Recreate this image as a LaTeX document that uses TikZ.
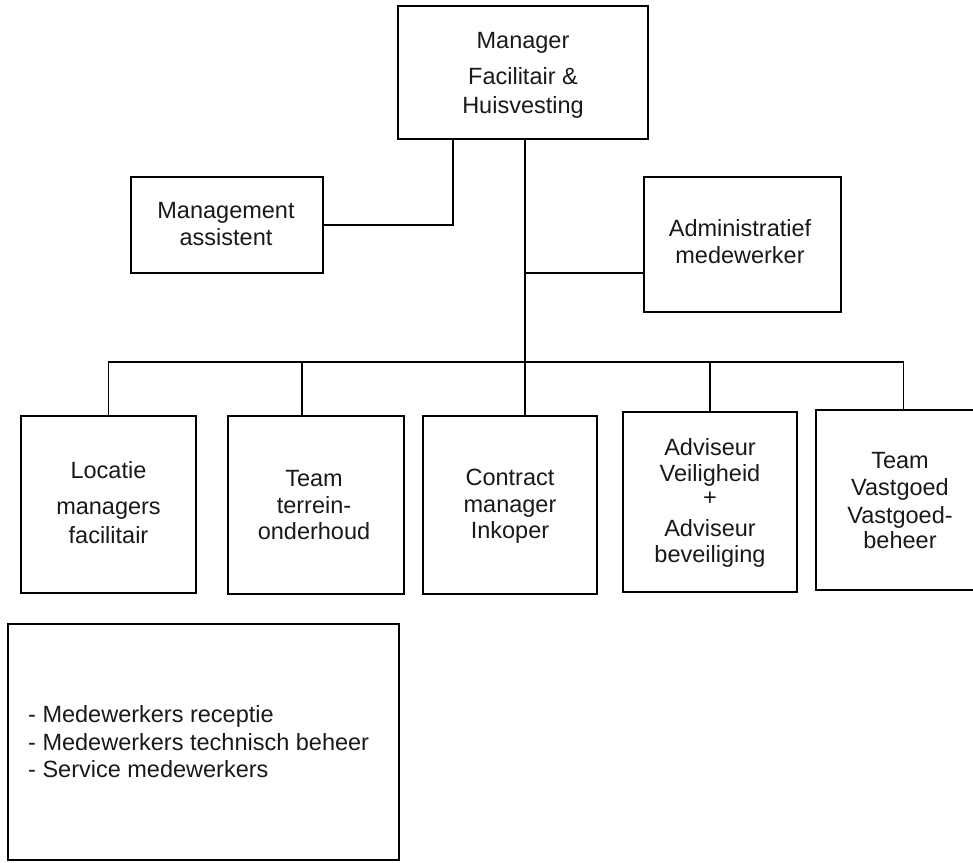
\documentclass[tikz,border=0pt]{standalone}
\usepackage{fontspec}
\setmainfont{Liberation Sans}
\begin{document}
\begin{tikzpicture}[x=1pt,y=-1pt,
  box/.style={draw=black,line width=1.6pt,rectangle,inner sep=0pt},
  txt/.style={align=center,inner sep=0pt,anchor=base,text=black!90,font=\fontsize{23.5}{27}\selectfont},
  ltxt/.style={align=left,inner sep=0pt,anchor=base west,text=black!90,font=\fontsize{23.5}{27}\selectfont},
  conn/.style={draw=black,line width=1.6pt}]
\useasboundingbox (0,0) rectangle (973,862);
% boxes
\node[box,minimum width=250pt,minimum height=133pt] (top) at (523,72.5) {};
\node[box,minimum width=192pt,minimum height=96pt] (assist) at (227,225) {};
\node[box,minimum width=197pt,minimum height=135pt] (admin) at (742.5,244.5) {};
\node[box,minimum width=175pt,minimum height=177pt] (b1) at (108.5,504.5) {};
\node[box,minimum width=176pt,minimum height=178pt] (b2) at (316,505) {};
\node[box,minimum width=174pt,minimum height=178pt] (b3) at (510,505) {};
\node[box,minimum width=174pt,minimum height=180pt] (b4) at (710,502) {};
\node[box,minimum width=175pt,minimum height=180pt] (b5) at (903.5,500) {};
\node[box,minimum width=391pt,minimum height=236pt] (list) at (203.5,742) {};
% texts (anchor base = baseline of the last line)
\node[txt] (topt) at (523,113) {Manager\\[9pt]Facilitair \&\\[2pt]Huisvesting};
\node[txt] (assistt) at (226,245) {Management\\[0pt]assistent};
\node[txt] (admint) at (740,263) {Administratief\\[0pt]medewerker};
\node[txt] (b1t) at (108.5,543) {Locatie\\[9pt]managers\\[2pt]facilitair};
\node[txt] (b2t) at (314,539) {Team\\[0pt]terrein-\\[-1pt]onderhoud};
\node[txt] (b3t) at (510,538) {Contract\\[0pt]manager\\[-1pt]Inkoper};
\node[txt] (b4t) at (710,562) {Adviseur\\[-1pt]Veiligheid\\[-3pt]+\\[4pt]Adviseur\\[-1pt]beveiliging};
\node[txt] (b5t) at (900,548) {Team\\[0pt]Vastgoed\\[1pt]Vastgoed-\\[-2pt]beheer};
\node[ltxt] (listt) at (28,777) {- Medewerkers receptie\\[1pt]- Medewerkers technisch beheer\\[0pt]- Service medewerkers};
% connectors
\coordinate (bus) at (525,362);
\draw[conn] ([xshift=-70pt]top.south) |- (assist.east);
\draw[conn] ([xshift=2pt]top.south) -- (bus);
\draw[conn] ([yshift=-28.5pt]admin.west) -- ([yshift=-28.5pt]admin.west -| bus);
\draw[conn] (b1.north) -- (b1.north |- bus) -- (b5.north |- bus) -- (b5.north);
\draw[conn] ([xshift=-14pt]b2.north) -- ([xshift=-14pt]b2.north |- bus);
\draw[conn] ([xshift=15pt]b3.north) -- ([xshift=15pt]b3.north |- bus);
\draw[conn] (b4.north) -- (b4.north |- bus);
\end{tikzpicture}
\end{document}
